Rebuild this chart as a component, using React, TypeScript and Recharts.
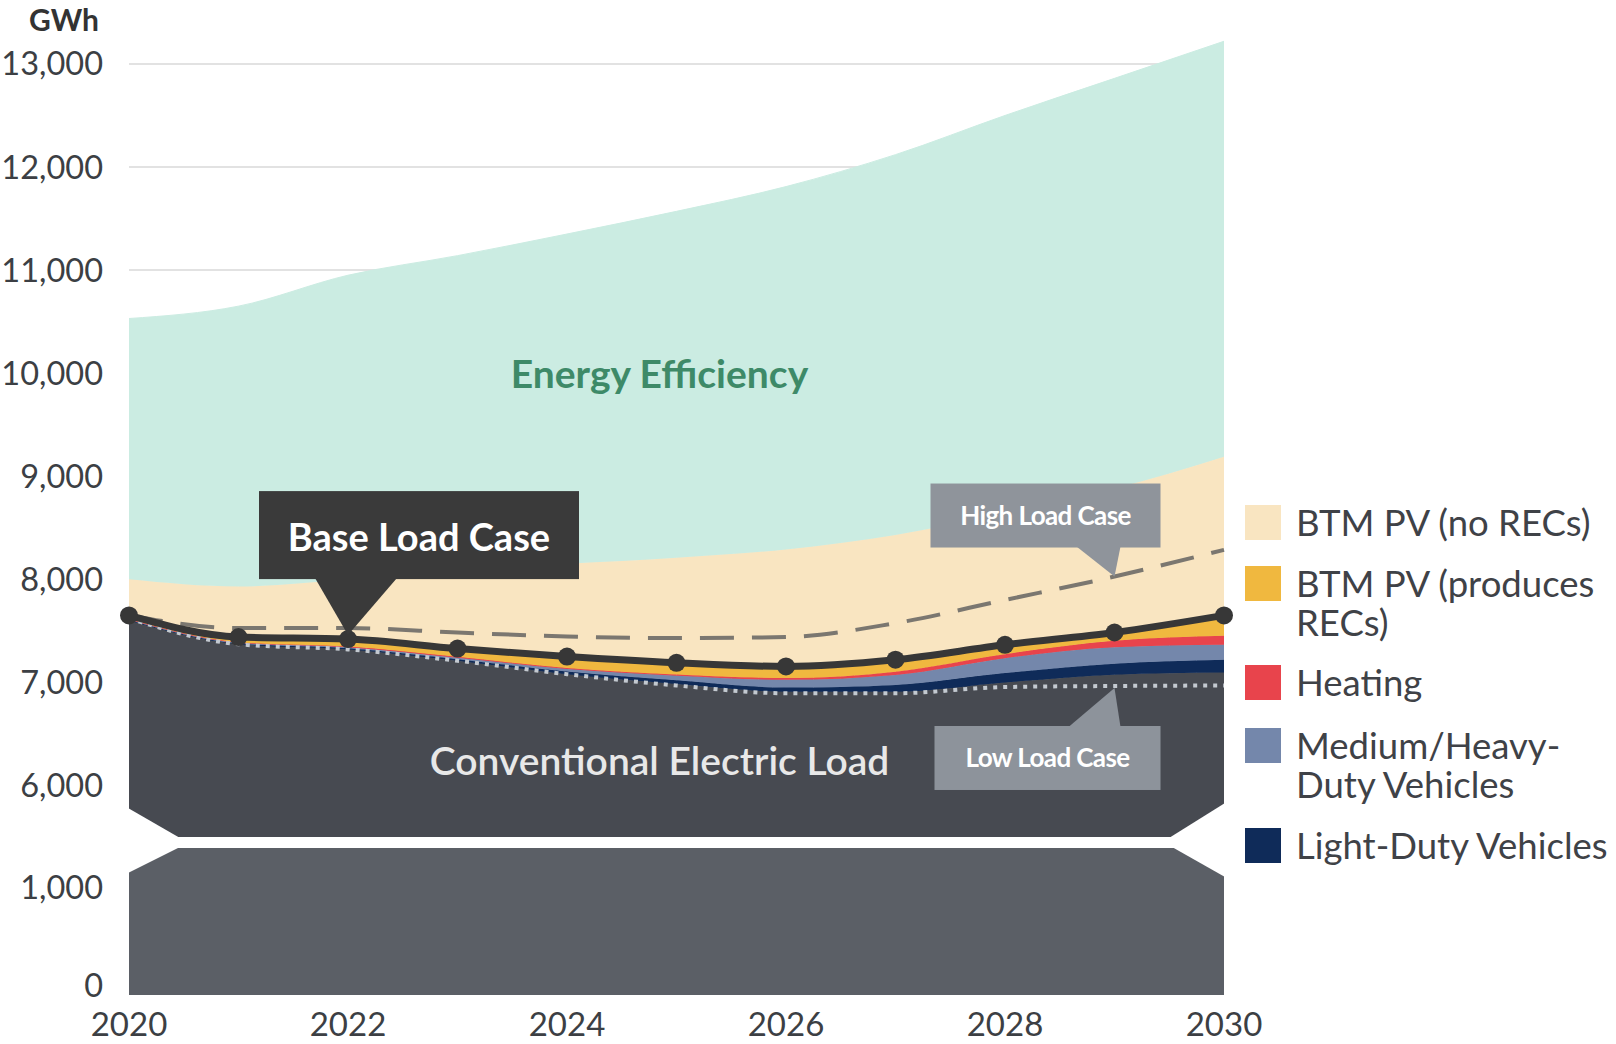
import React from 'react';
import { ComposedChart, Area, Line, XAxis, YAxis, CartesianGrid, ReferenceDot } from 'recharts';

// Years on the x axis
const years = [2020, 2021, 2022, 2023, 2024, 2025, 2026, 2027, 2028, 2029, 2030];

// Stacked components (GWh)
const conventional = [7600, 7370, 7320, 7210, 7080, 6985, 6910, 6910, 6999, 7074, 7096];
const lightDuty = [5, 8, 12, 15, 25, 35, 40, 65, 91, 106, 123];
const mediumHeavy = [5, 7, 10, 15, 25, 45, 75, 97, 145, 162, 146];
const heating = [5, 5, 5, 8, 10, 12, 17, 32, 39, 61, 87];
const btmPvRecs = [35, 50, 73, 80, 110, 113, 113, 116, 91, 81, 198];
const btmPvNoRecs = [350, 490, 580, 752, 900, 1020, 1135, 1210, 1275, 1396, 1540];
const energyEfficiency = [2530, 2720, 2950, 3060, 3200, 3360, 3520, 3690, 3860, 3980, 4030];

// Scenario lines
const highLoad = [7650, 7527, 7527, 7484, 7445, 7430, 7440, 7575, 7800, 8027, 8286];
const lowLoad = [7620, 7370, 7320, 7210, 7080, 6970, 6895, 6895, 6955, 6965, 6970];

const upperTicks = [6000, 7000, 8000, 9000, 10000, 11000, 12000, 13000];
const lowerTicks = [0, 1000];
const yearTicks = [2020, 2022, 2024, 2026, 2028, 2030];

const COLORS = {
  ee: '#cbece2',
  noRecs: '#f9e5c1',
  recs: '#f0b83f',
  heating: '#e8444c',
  mhdv: '#7487ab',
  ldv: '#0f2b59',
  conv: '#474a51',
  convLower: '#5b5f66',
  base: '#373737',
  high: '#7b7770',
  low: '#c3c9d0',
};

const FONT = 'Lato, "Noto Sans", sans-serif';
const AXIS_TEXT = '#3c3f44';

const data = years.map((year, i) => ({
  year,
  conventional: conventional[i],
  lightDuty: lightDuty[i],
  mediumHeavy: mediumHeavy[i],
  heating: heating[i],
  btmPvRecs: btmPvRecs[i],
  btmPvNoRecs: btmPvNoRecs[i],
  energyEfficiency: energyEfficiency[i],
  base: conventional[i] + lightDuty[i] + mediumHeavy[i] + heating[i] + btmPvRecs[i],
  high: highLoad[i],
  low: lowLoad[i],
}));

// two-line labels wrap on their own inside a narrow box
const legendItems = [
  { label: 'BTM PV (no RECs)', color: COLORS.noRecs, top: 505, wrap: false },
  { label: 'BTM PV (produces RECs)', color: COLORS.recs, top: 566, wrap: true },
  { label: 'Heating', color: COLORS.heating, top: 665, wrap: false },
  { label: 'Medium/Heavy-Duty Vehicles', color: COLORS.mhdv, top: 728, wrap: true },
  { label: 'Light-Duty Vehicles', color: COLORS.ldv, top: 828, wrap: false },
];

const fmt = (v: number) => v.toLocaleString('en-US');

// callout anchored on the base line at 2022
const BaseCallout = ({ cx, cy }: any) => (
  <g>
    <rect x={cx - 89} y={cy - 148} width={320} height={88} fill="#3a3a3a" />
    <polygon points={`${cx - 33},${cy - 61} ${cx + 49},${cy - 61} ${cx},${cy - 4}`} fill="#3a3a3a" />
    <text x={cx + 71} y={cy - 103} textAnchor="middle" dominantBaseline="central"
      fill="#ffffff" fontSize={38} fontWeight={700} fontFamily={FONT}>Base Load Case</text>
  </g>
);

const HighCallout = ({ cx, cy }: any) => (
  <g>
    <rect x={cx - 184} y={cy - 93} width={230} height={64} fill="#8f949b" />
    <polygon points={`${cx - 38},${cy - 30} ${cx + 6},${cy - 30} ${cx},${cy}`} fill="#8f949b" />
    <text x={cx - 69} y={cy - 62} textAnchor="middle" dominantBaseline="central"
      fill="#ffffff" fontSize={26} fontWeight={700} fontFamily={FONT} letterSpacing={-0.6}>High Load Case</text>
  </g>
);

const LowCallout = ({ cx, cy }: any) => (
  <g>
    <rect x={cx - 180} y={cy + 40} width={226} height={64} fill="#8d939b" />
    <polygon points={`${cx - 46},${cy + 41} ${cx + 6},${cy + 41} ${cx},${cy + 2}`} fill="#8d939b" />
    <text x={cx - 67} y={cy + 71} textAnchor="middle" dominantBaseline="central"
      fill="#ffffff" fontSize={26} fontWeight={700} fontFamily={FONT} letterSpacing={-0.6}>Low Load Case</text>
  </g>
);

const AreaLabel = (text: string, color: string, weight: number) => ({ cx, cy }: any) => (
  <text x={cx - 17} y={cy} textAnchor="middle" dominantBaseline="central"
    fill={color} fontSize={39} fontWeight={weight} fontFamily={FONT}>{text}</text>
);

// white wedges that cut the corners of the axis break
const Wedge = (dx: number, dy: number) => ({ cx, cy }: any) => (
  <polygon points={`${cx - Math.sign(dx)},${cy - Math.sign(dy)} ${cx + dx},${cy - Math.sign(dy)} ${cx - Math.sign(dx)},${cy + dy}`} fill="#ffffff" />
);

export default function App() {
  const tickStyle = { fill: AXIS_TEXT, fontSize: 32.5, fontFamily: FONT };
  return (
    <div style={{ position: 'absolute', left: 0, top: 0, width: 1616, height: 1044, overflow: 'hidden', background: '#fff', fontFamily: FONT }}>
      <div style={{ position: 'absolute', left: 14, top: 3, width: 100, textAlign: 'center', fontSize: 30, lineHeight: '32px', fontWeight: 700, color: '#333' }}>GWh</div>

      {/* upper panel: 5,500 to 13,300 GWh */}
      <div style={{ position: 'absolute', left: 0, top: 0 }}>
        <ComposedChart width={1616} height={845} data={data} margin={{ top: 33, right: 392, bottom: 8, left: 0 }}>
          <CartesianGrid vertical={false} horizontalValues={upperTicks} stroke="#e2e2e2" strokeWidth={2} />
          <XAxis dataKey="year" type="number" domain={[2020, 2030]} ticks={yearTicks} hide />
          <YAxis type="number" domain={[5500, 13300]} allowDataOverflow ticks={upperTicks} width={129}
            axisLine={false} tickLine={false} tickSize={0} tickMargin={26} tickFormatter={fmt} tick={tickStyle} />
          <Area dataKey="conventional" stackId="load" type="monotone" fill={COLORS.conv} stroke={COLORS.conv} strokeWidth={1} fillOpacity={1} isAnimationActive={false} />
          <Area dataKey="lightDuty" stackId="load" type="monotone" fill={COLORS.ldv} stroke={COLORS.ldv} strokeWidth={1} fillOpacity={1} isAnimationActive={false} />
          <Area dataKey="mediumHeavy" stackId="load" type="monotone" fill={COLORS.mhdv} stroke={COLORS.mhdv} strokeWidth={1} fillOpacity={1} isAnimationActive={false} />
          <Area dataKey="heating" stackId="load" type="monotone" fill={COLORS.heating} stroke={COLORS.heating} strokeWidth={1} fillOpacity={1} isAnimationActive={false} />
          <Area dataKey="btmPvRecs" stackId="load" type="monotone" fill={COLORS.recs} stroke={COLORS.recs} strokeWidth={1} fillOpacity={1} isAnimationActive={false} />
          <Area dataKey="btmPvNoRecs" stackId="load" type="monotone" fill={COLORS.noRecs} stroke={COLORS.noRecs} strokeWidth={1} fillOpacity={1} isAnimationActive={false} />
          <Area dataKey="energyEfficiency" stackId="load" type="monotone" fill={COLORS.ee} stroke={COLORS.ee} strokeWidth={1} fillOpacity={1} isAnimationActive={false} />
          <Line dataKey="low" type="monotone" stroke={COLORS.low} strokeWidth={4} strokeDasharray="4 6" dot={false} isAnimationActive={false} />
          <Line dataKey="high" type="monotone" stroke={COLORS.high} strokeWidth={4} strokeDasharray="34 18" dot={false} isAnimationActive={false} />
          <Line dataKey="base" type="monotone" stroke={COLORS.base} strokeWidth={7}
            dot={{ r: 9, fill: COLORS.base, stroke: COLORS.base, strokeWidth: 0 }} isAnimationActive={false} />
          <ReferenceDot x={2020} y={5500} ifOverflow="visible" shape={Wedge(51, -29)} />
          <ReferenceDot x={2030} y={5500} ifOverflow="visible" shape={Wedge(-55, -34)} />
          <ReferenceDot x={2025} y={10000} ifOverflow="visible" shape={AreaLabel('Energy Efficiency', '#3e8a68', 700)} />
          <ReferenceDot x={2025} y={6250} ifOverflow="visible" shape={AreaLabel('Conventional Electric Load', '#e8e8e8', 600)} />
          <ReferenceDot x={2022} y={data[2].base} ifOverflow="visible" shape={BaseCallout} />
          <ReferenceDot x={2029} y={highLoad[9]} ifOverflow="visible" shape={HighCallout} />
          <ReferenceDot x={2029} y={lowLoad[9]} ifOverflow="visible" shape={LowCallout} />
        </ComposedChart>
      </div>

      {/* lower panel: 0 to 1,400 GWh (scale runs a little below zero, as in the figure) */}
      <div style={{ position: 'absolute', left: 0, top: 840 }}>
        <ComposedChart width={1616} height={204} data={data} margin={{ top: 8, right: 392, bottom: 0, left: 0 }}>
          <XAxis dataKey="year" type="number" domain={[2020, 2030]} ticks={yearTicks} height={49}
            axisLine={false} tickLine={false} tickSize={0} tickMargin={18}
            tick={{ fill: AXIS_TEXT, fontSize: 33, fontFamily: FONT }} />
          <YAxis type="number" domain={[-100, 1400]} allowDataOverflow ticks={lowerTicks} width={129}
            axisLine={false} tickLine={false} tickSize={0} tickMargin={26} tickFormatter={fmt} tick={tickStyle} />
          <Area dataKey="conventional" type="linear" baseValue={-100} fill={COLORS.convLower} stroke="none" fillOpacity={1} isAnimationActive={false} />
          <ReferenceDot x={2020} y={1400} ifOverflow="visible" shape={Wedge(51, 25)} />
          <ReferenceDot x={2030} y={1400} ifOverflow="visible" shape={Wedge(-52, 29)} />
        </ComposedChart>
      </div>

      {/* legend */}
      {legendItems.map((item) => (
        <div key={item.label} style={{ position: 'absolute', left: 1245, top: item.top, display: 'flex', alignItems: 'flex-start' }}>
          <div style={{ width: 36, height: 35, background: item.color, flex: 'none' }} />
          <div style={{
            marginLeft: 15, marginTop: -2, fontSize: 36.5, lineHeight: '39px', color: '#3f4247',
            whiteSpace: item.wrap ? 'normal' : 'nowrap', width: item.wrap ? 312 : undefined,
          }}>
            {item.label}
          </div>
        </div>
      ))}
    </div>
  );
}
